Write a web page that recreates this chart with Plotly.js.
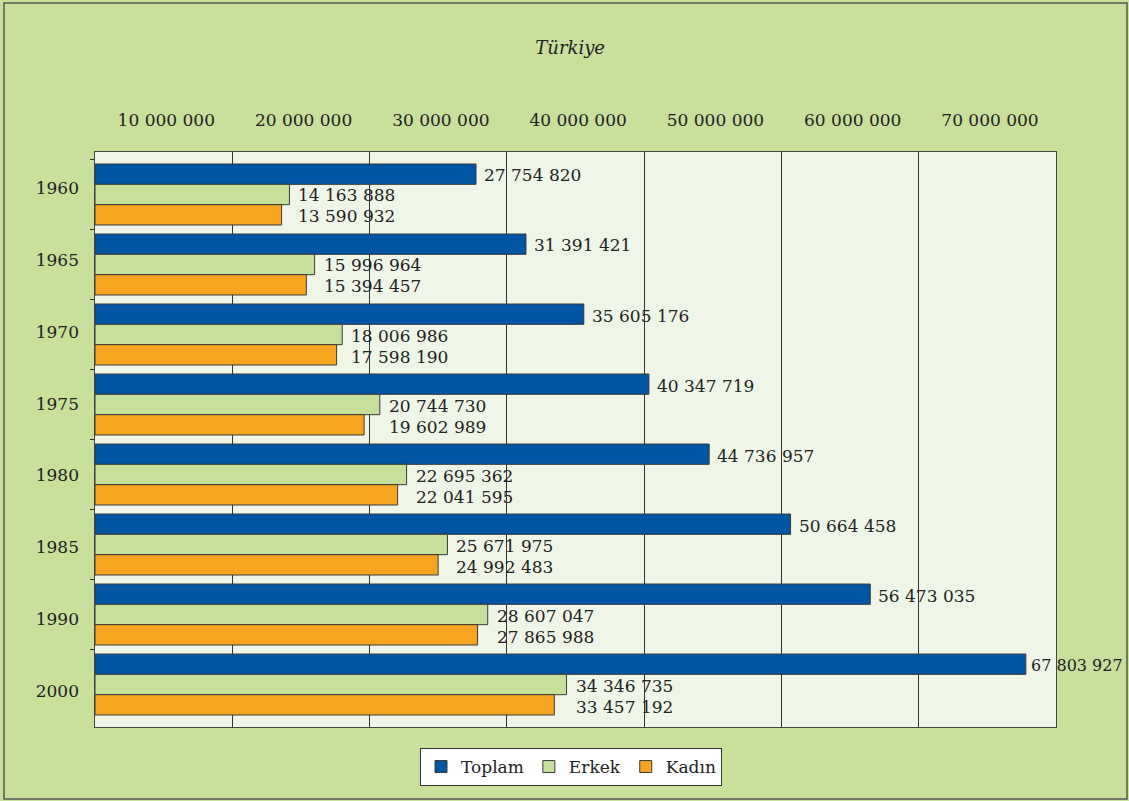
<!DOCTYPE html>
<html>
<head>
<meta charset="utf-8">
<script src="https://cdn.plot.ly/plotly-3.0.1.min.js"></script>
<style>html,body{margin:0;padding:0;background:#c8e09c;}#chart{width:1129px;height:801px;}</style>
</head>
<body>
<div id="chart"></div>
<script>
const years = ["1960", "1965", "1970", "1975", "1980", "1985", "1990", "2000"];
const toplam = [27754820, 31391421, 35605176, 40347719, 44736957, 50664458, 56473035, 67803927];
const erkek = [14163888, 15996964, 18006986, 20744730, 22695362, 25671975, 28607047, 34346735];
const kadin = [13590932, 15394457, 17598190, 19602989, 22041595, 24992483, 27865988, 33457192];
const tickValues = [10000000, 20000000, 30000000, 40000000, 50000000, 60000000, 70000000];
const tickLabels = ["10 000 000", "20 000 000", "30 000 000", "40 000 000", "50 000 000", "60 000 000", "70 000 000"];

const fmt = v => String(v).replace(/\B(?=(\d{3})+(?!\d))/g, " ");
const serif = "'DejaVu Serif', 'Liberation Serif', serif";
const txt = "#222222";
const XMAX = 70000000;

function mk(name, vals, color) {
  return {
    type: "bar", orientation: "h", name: name, y: years, x: vals,
    marker: {color: color, line: {color: "#3a3a3a", width: 1}},
    hoverinfo: "x+name"
  };
}

const data = [
  mk("Toplam", toplam, "#0055a5"),
  mk("Erkek", erkek, "#c6e09c"),
  mk("Kadın", kadin, "#f7a520"),
  // carrier for the year labels axis (draws nothing)
  {type: "scatter", mode: "none", x: years.map(() => null), y: years, yaxis: "y2",
   showlegend: false, hoverinfo: "skip"}
];

const labelFont = {family: serif, size: 17, color: txt};
const annotations = [];
years.forEach((yr, i) => {
  const near = toplam[i] > 0.9 * XMAX;
  annotations.push({x: toplam[i], y: i, xref: "x", yref: "y", text: fmt(toplam[i]),
    xanchor: "left", yanchor: "middle", xshift: near ? 3 : 6, yshift: 19, showarrow: false,
    font: near ? {family: serif, size: 16, color: txt} : labelFont});
  annotations.push({x: erkek[i], y: i, xref: "x", yref: "y", text: fmt(erkek[i]),
    xanchor: "left", yanchor: "middle", xshift: 7, yshift: -1, showarrow: false, font: labelFont});
  annotations.push({x: Math.max(erkek[i], kadin[i]), y: i, xref: "x", yref: "y", text: fmt(kadin[i]),
    xanchor: "left", yanchor: "middle", xshift: 7, yshift: -22, showarrow: false, font: labelFont});
});

const W = 961, H = 575;
const layout = {
  width: 1129, height: 801,
  margin: {l: 95, r: 73, t: 152, b: 74},
  paper_bgcolor: "#c8e09c",
  plot_bgcolor: "#f0f6e7",
  barmode: "group", bargap: 0.129, bargroupgap: 0,
  font: {family: serif, size: 17, color: txt},
  title: {text: "<i>Türkiye</i>", x: 0.505, xanchor: "center", y: 1 - 48/801, yanchor: "middle",
          font: {family: serif, size: 18, color: txt}},
  xaxis: {
    side: "top", range: [0, XMAX], tickvals: tickValues, ticktext: tickLabels,
    ticklabelshift: -66, ticklabelstandoff: 18, ticks: "", showgrid: true,
    gridcolor: "#333", gridwidth: 1, zeroline: false,
    showline: true, linecolor: "#444", linewidth: 1, mirror: true,
    tickfont: {family: serif, size: 17, color: txt}, fixedrange: true
  },
  yaxis: {
    type: "category", autorange: false, range: [7.607, -0.607], tickson: "boundaries",
    ticks: "outside", ticklen: 4, tickcolor: "#333", showticklabels: false,
    showline: true, linecolor: "#444", linewidth: 1, mirror: true,
    showgrid: false, fixedrange: true
  },
  yaxis2: {
    overlaying: "y", side: "left", type: "category", range: [7.5, -0.5], autorange: false,
    ticks: "", showline: false, showgrid: false, zeroline: false,
    ticklabelstandoff: 15,
    tickfont: {family: serif, size: 17, color: txt}, fixedrange: true
  },
  annotations: annotations,
  showlegend: true,
  legend: {
    orientation: "h", x: (571 - 95) / W, xanchor: "center",
    y: (727 - 748) / H, yanchor: "top",
    bgcolor: "#ffffff", bordercolor: "#333", borderwidth: 1,
    font: {family: serif, size: 17, color: txt}, traceorder: "normal",
    itemwidth: 30
  },
  shapes: [{
    type: "rect", xref: "paper", yref: "paper",
    x0: (4 - 95) / W, x1: (1127 - 95) / W, y0: (727 - 799) / H, y1: (727 - 3) / H,
    line: {color: "#555", width: 1.5}, fillcolor: "rgba(0,0,0,0)", layer: "below"
  }]
};

Plotly.newPlot("chart", data, layout, {displayModeBar: false, staticPlot: true});
</script>
</body>
</html>
